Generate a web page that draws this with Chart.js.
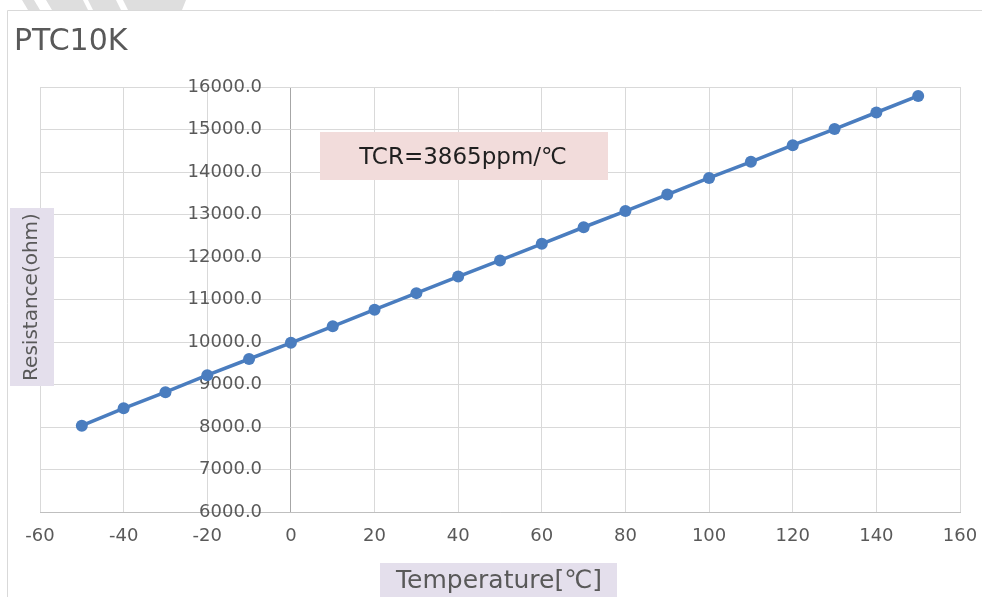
<!DOCTYPE html>
<html>
<head>
<meta charset="utf-8">
<script src="https://cdn.jsdelivr.net/npm/chart.js@4.4.1/dist/chart.umd.min.js"></script>
<style>
  html, body { margin: 0; padding: 0; background: #fff; }
  canvas { display: block; }
</style>
</head>
<body>
<canvas id="myChart" width="982" height="597"></canvas>
<script>
// データ
var temps = [-50, -40, -30, -20, -10, 0, 10, 20, 30, 40, 50, 60, 70, 80, 90, 100, 110, 120, 130, 140, 150];
var resist = [8030, 8440, 8820, 9220, 9600, 9980, 10370, 10760, 11150, 11540, 11920, 12310, 12700, 13080, 13470, 13860, 14240, 14630, 15010, 15400, 15790];
var xTicks = [-60, -40, -20, 0, 20, 40, 60, 80, 100, 120, 140, 160];
var yTicks = [6000, 7000, 8000, 9000, 10000, 11000, 12000, 13000, 14000, 15000, 16000];

var titleText = "PTC10K";
var xTitle = "Temperature[℃]";
var yTitle = "Resistance(ohm)";
var noteText = "TCR=3865ppm/℃";

var FONT = "'DejaVu Sans', Verdana, sans-serif";
var GRAY = "#595959";

// 枠・タイトル・注記の描画
var decoPlugin = {
  id: 'deco',
  beforeDraw: function(chart) {
    var c = chart.ctx;
    c.save();
    // 上端の薄い縞模様
    c.fillStyle = "#dedede";
    var stripes = [[22, 34, 40, 28], [46, 83, 88, 52], [88, 116, 121, 93], [123, 186, 182, 128]];
    stripes.forEach(function(s) {
      c.beginPath();
      c.moveTo(s[0], 0); c.lineTo(s[1], 0); c.lineTo(s[2], 10); c.lineTo(s[3], 10);
      c.closePath(); c.fill();
    });
    // 外枠
    c.strokeStyle = "#d9d9d9";
    c.lineWidth = 1;
    c.beginPath();
    c.moveTo(7.5, 597); c.lineTo(7.5, 10.5); c.lineTo(982, 10.5);
    c.stroke();
    c.restore();
  },
  afterDraw: function(chart) {
    var c = chart.ctx;
    c.save();
    // タイトル
    c.fillStyle = GRAY;
    c.font = "30px " + FONT;
    c.textAlign = "left";
    c.textBaseline = "middle";
    c.fillText(titleText, 14, 42);

    // 注記ボックス
    c.fillStyle = "#f2dcdb";
    c.fillRect(320, 132, 288, 48);
    c.fillStyle = "#1f1f1f";
    c.font = "23px " + FONT;
    c.textAlign = "center";
    c.fillText(noteText, 463, 158);

    // X軸タイトル
    c.fillStyle = "#e4dfec";
    c.fillRect(380, 563, 237, 34);
    c.fillStyle = GRAY;
    c.font = "25px " + FONT;
    c.fillText(xTitle, 499, 581);

    // Y軸タイトル
    c.fillStyle = "#e4dfec";
    c.fillRect(10, 208, 44, 178);
    c.translate(32, 297);
    c.rotate(-Math.PI / 2);
    c.fillStyle = GRAY;
    c.font = "20px " + FONT;
    c.fillText(yTitle, 0, 0);
    c.restore();
  }
};

var points = [];
for (var i = 0; i < temps.length; i++) {
  points.push({ x: temps[i], y: resist[i] });
}

var ctx = document.getElementById("myChart").getContext("2d");
var myChart = new Chart(ctx, {
  type: 'scatter',
  data: {
    datasets: [{
      data: points,
      showLine: true,
      borderColor: "#4a7dbf",
      backgroundColor: "#4a7dbf",
      borderWidth: 3.5,
      pointRadius: 6,
      pointHoverRadius: 6,
      pointBorderWidth: 0
    }]
  },
  options: {
    responsive: false,
    animation: false,
    devicePixelRatio: 1,
    layout: { padding: { left: 40, right: 22, top: 87, bottom: 45 } },
    plugins: {
      legend: { display: false },
      tooltip: { enabled: false }
    },
    scales: {
      x: {
        type: 'linear',
        min: xTicks[0],
        max: xTicks[xTicks.length - 1],
        afterBuildTicks: function(scale) {
          scale.ticks = xTicks.map(function(v) { return { value: v }; });
        },
        afterFit: function(scale) {
          scale.height = 40;
          scale.paddingLeft = 0;
          scale.paddingRight = 0;
        },
        grid: {
          color: function(c) { return c.tick && c.tick.value === 0 ? "#a6a6a6" : "#d9d9d9"; },
          drawTicks: false
        },
        border: { color: "#bfbfbf" },
        ticks: { color: GRAY, padding: 14, font: { family: FONT, size: 18 } }
      },
      y: {
        type: 'linear',
        // ラベルを0の軸線から少し左に置く
        position: { x: -6.9 },
        min: yTicks[0],
        max: yTicks[yTicks.length - 1],
        afterBuildTicks: function(scale) {
          scale.ticks = yTicks.map(function(v) { return { value: v }; });
        },
        afterFit: function(scale) {
          scale.paddingTop = 0;
          scale.paddingBottom = 0;
        },
        grid: { color: "#d9d9d9", drawTicks: false },
        border: { display: false },
        ticks: {
          color: GRAY,
          padding: 0,
          font: { family: FONT, size: 18 },
          callback: function(v) { return Number(v).toFixed(1); }
        }
      }
    }
  },
  plugins: [decoPlugin]
});
</script>
</body>
</html>
